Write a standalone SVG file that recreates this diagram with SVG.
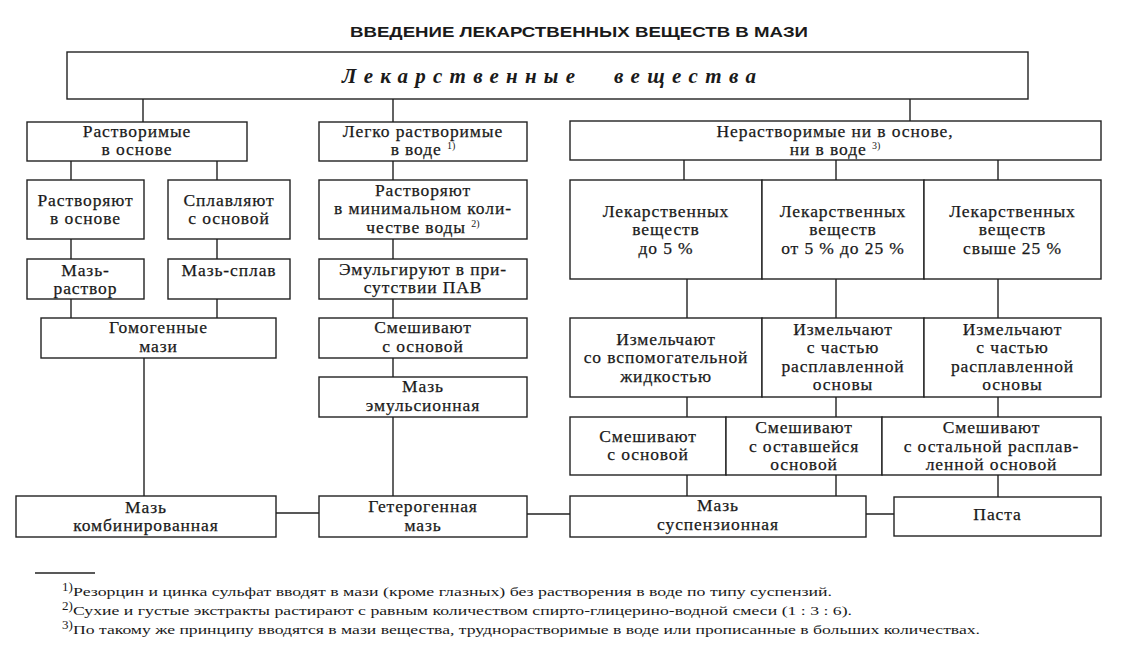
<svg xmlns="http://www.w3.org/2000/svg" width="1129" height="649" viewBox="0 0 1129 649">
<style>
.bg{fill:#ffffff}
.box{fill:#ffffff;stroke:#222;stroke-width:1.4}
.c{stroke:#222;stroke-width:1.4;fill:none}
.t{font-family:"Liberation Serif","DejaVu Serif",serif;font-size:17.5px;fill:#1a1a1a;stroke:#1a1a1a;stroke-width:0.25px;text-anchor:middle;letter-spacing:0.9px}
.sup{font-size:10px;letter-spacing:0;stroke-width:0}
.title{font-family:"Liberation Sans","DejaVu Sans",sans-serif;font-size:15px;font-weight:bold;fill:#1a1a1a}
.main{font-family:"Liberation Serif","DejaVu Serif",serif;font-size:21px;font-weight:bold;font-style:italic;fill:#1a1a1a}
.fn{font-family:"Liberation Serif","DejaVu Serif",serif;font-size:13px;fill:#1a1a1a}
</style>
<rect class="bg" x="0" y="0" width="1129" height="649"/>
<text class="title" x="350" y="37" textLength="458" lengthAdjust="spacingAndGlyphs">ВВЕДЕНИЕ ЛЕКАРСТВЕННЫХ ВЕЩЕСТВ В МАЗИ</text>

<g id="connectors">
<path class="c" d="M143,99V122 M393,99V122 M910,99V121"/>
<path class="c" d="M71,161V180 M217,161V180 M71,239V259 M217,239V259 M71,299V318 M217,299V318 M144,358V496"/>
<path class="c" d="M393,161V180 M393,239V259 M393,299V318 M393,358V377 M393,417V496"/>
<path class="c" d="M684,160V180 M836,160V180 M998,160V180"/>
<path class="c" d="M687,279V318 M836,279V318 M998,279V318"/>
<path class="c" d="M687,397V417 M836,397V417 M998,397V417"/>
<path class="c" d="M687,475V496 M836,475V496 M998,475V497"/>
<path class="c" d="M276,513H319 M527,514H570 M866,514H894"/>
</g>

<g id="n-top"><rect class="box" x="67" y="52" width="961" height="47"/>
<text class="main" x="342" y="83" textLength="233" lengthAdjust="spacing">Лекарственные</text>
<text class="main" x="614" y="83" textLength="142" lengthAdjust="spacing">вещества</text></g>

<g id="n-rastv"><rect class="box" x="27" y="122" width="220" height="39"/>
<text class="t" x="137" y="137">Растворимые</text><text class="t" x="137" y="155">в основе</text></g>

<g id="n-legko"><rect class="box" x="319" y="122" width="208" height="39"/>
<text class="t" x="423" y="137">Легко растворимые</text><text class="t" x="423" y="155">в воде <tspan class="sup" dy="-6">1)</tspan></text></g>

<g id="n-nerastv"><rect class="box" x="570" y="121" width="531" height="39"/>
<text class="t" x="835" y="137">Нерастворимые ни в основе,</text><text class="t" x="835" y="155">ни в воде <tspan class="sup" dy="-6">3)</tspan></text></g>

<g id="n-rastvoryayut"><rect class="box" x="27" y="180" width="117" height="59"/>
<text class="t" x="85.5" y="206">Растворяют</text><text class="t" x="85.5" y="224">в основе</text></g>

<g id="n-splavlyayut"><rect class="box" x="168" y="180" width="122" height="59"/>
<text class="t" x="229" y="206">Сплавляют</text><text class="t" x="229" y="224">с основой</text></g>

<g id="n-rastv-min"><rect class="box" x="319" y="180" width="208" height="59"/>
<text class="t" x="423" y="196">Растворяют</text><text class="t" x="423" y="214">в минимальном коли-</text><text class="t" x="423" y="233">честве воды <tspan class="sup" dy="-6">2)</tspan></text></g>

<g id="n-maz-rastvor"><rect class="box" x="27" y="259" width="117" height="40"/>
<text class="t" x="85.5" y="276">Мазь-</text><text class="t" x="85.5" y="294">раствор</text></g>

<g id="n-maz-splav"><rect class="box" x="168" y="259" width="122" height="40"/>
<text class="t" x="229" y="276">Мазь-сплав</text></g>

<g id="n-emulg"><rect class="box" x="319" y="259" width="208" height="40"/>
<text class="t" x="423" y="275">Эмульгируют в при-</text><text class="t" x="423" y="293">сутствии ПАВ</text></g>

<g id="n-gomogen"><rect class="box" x="41" y="318" width="235" height="40"/>
<text class="t" x="158.5" y="333">Гомогенные</text><text class="t" x="158.5" y="352">мази</text></g>

<g id="n-smesh-mid"><rect class="box" x="319" y="318" width="208" height="40"/>
<text class="t" x="423" y="333">Смешивают</text><text class="t" x="423" y="352">с основой</text></g>

<g id="n-maz-emul"><rect class="box" x="319" y="377" width="208" height="40"/>
<text class="t" x="423" y="392">Мазь</text><text class="t" x="423" y="411">эмульсионная</text></g>

<g id="n-lek5"><rect class="box" x="570" y="180" width="192" height="99"/>
<text class="t" x="666" y="217">Лекарственных</text><text class="t" x="666" y="235">веществ</text><text class="t" x="666" y="254">до 5 %</text></g>

<g id="n-lek25"><rect class="box" x="762" y="180" width="162" height="99"/>
<text class="t" x="843" y="217">Лекарственных</text><text class="t" x="843" y="235">веществ</text><text class="t" x="843" y="254">от 5 % до 25 %</text></g>

<g id="n-lek-over"><rect class="box" x="924" y="180" width="177" height="99"/>
<text class="t" x="1012.5" y="217">Лекарственных</text><text class="t" x="1012.5" y="235">веществ</text><text class="t" x="1012.5" y="254">свыше 25 %</text></g>

<g id="n-izm1"><rect class="box" x="570" y="318" width="192" height="79"/>
<text class="t" x="666" y="345">Измельчают</text><text class="t" x="666" y="363">со вспомогательной</text><text class="t" x="666" y="382">жидкостью</text></g>

<g id="n-izm2"><rect class="box" x="762" y="318" width="162" height="79"/>
<text class="t" x="843" y="335">Измельчают</text><text class="t" x="843" y="353">с частью</text><text class="t" x="843" y="372">расплавленной</text><text class="t" x="843" y="390">основы</text></g>

<g id="n-izm3"><rect class="box" x="924" y="318" width="177" height="79"/>
<text class="t" x="1012.5" y="335">Измельчают</text><text class="t" x="1012.5" y="353">с частью</text><text class="t" x="1012.5" y="372">расплавленной</text><text class="t" x="1012.5" y="390">основы</text></g>

<g id="n-sm1"><rect class="box" x="570" y="417" width="156" height="58"/>
<text class="t" x="648" y="442">Смешивают</text><text class="t" x="648" y="460">с основой</text></g>

<g id="n-sm2"><rect class="box" x="726" y="417" width="156" height="58"/>
<text class="t" x="804" y="433">Смешивают</text><text class="t" x="804" y="452">с оставшейся</text><text class="t" x="804" y="470">основой</text></g>

<g id="n-sm3"><rect class="box" x="882" y="417" width="219" height="58"/>
<text class="t" x="991.5" y="433">Смешивают</text><text class="t" x="991.5" y="452">с остальной расплав-</text><text class="t" x="991.5" y="470">ленной основой</text></g>

<g id="n-komb"><rect class="box" x="16" y="496" width="260" height="41"/>
<text class="t" x="146" y="513">Мазь</text><text class="t" x="146" y="531">комбинированная</text></g>

<g id="n-geter"><rect class="box" x="319" y="496" width="208" height="41"/>
<text class="t" x="423" y="512">Гетерогенная</text><text class="t" x="423" y="531">мазь</text></g>

<g id="n-susp"><rect class="box" x="570" y="496" width="296" height="41"/>
<text class="t" x="718" y="511">Мазь</text><text class="t" x="718" y="530">суспензионная</text></g>

<g id="n-pasta"><rect class="box" x="894" y="497" width="207" height="39"/>
<text class="t" x="997.5" y="520">Паста</text></g>

<g id="footnotes">
<line class="c" x1="35" y1="573" x2="95" y2="573" stroke-width="1"/>
<text class="fn" x="62" y="591" font-size="8">1)</text>
<text class="fn" x="73" y="596" textLength="759" lengthAdjust="spacingAndGlyphs">Резорцин и цинка сульфат вводят в мази (кроме глазных) без растворения в воде по типу суспензий.</text>
<text class="fn" x="62" y="610" font-size="8">2)</text>
<text class="fn" x="73" y="615" textLength="779" lengthAdjust="spacingAndGlyphs">Сухие и густые экстракты растирают с равным количеством спирто-глицерино-водной смеси (1 : 3 : 6).</text>
<text class="fn" x="62" y="629" font-size="8">3)</text>
<text class="fn" x="73" y="634" textLength="907" lengthAdjust="spacingAndGlyphs">По такому же принципу вводятся в мази вещества, труднорастворимые в воде или прописанные в больших количествах.</text>
</g>
</svg>
